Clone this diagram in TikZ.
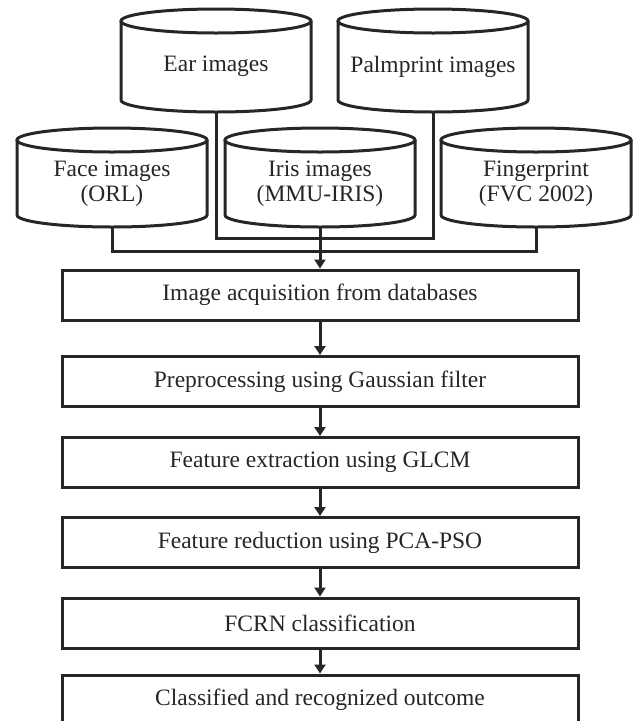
\documentclass[tikz,border=0pt]{standalone}
\usepackage{fontspec}
\setmainfont{Liberation Serif}
\usetikzlibrary{arrows.meta}

% database cylinder: name, centre x, top-ellipse centre y, side height, label
\newcommand\dbcyl[5]{%
  \draw[cyl] (#2,-#3) ellipse (95 and 12);
  \draw[cyl] (#2-95,-#3) -- ++(0,-#4) arc (180:360:95 and 12) -- ++(0,#4);
  \node[cyltext] (#1) at (#2,-#3-#4/2-6) {#5};
  \coordinate (#1b) at (#2,-#3-#4-12);
}

\begin{document}
\begin{tikzpicture}[x=1pt,y=1pt,
  cyl/.style={line width=3pt, draw=black!85},
  cyltext/.style={align=center, inner sep=0pt, text=black!85,
    font=\fontsize{23.5}{25}\selectfont},
  stage/.style={draw=black!85, line width=3pt, minimum width=516pt,
    minimum height=50pt, inner sep=0pt, text=black!85,
    font=\fontsize{23.5}{26}\selectfont},
  conn/.style={line width=3pt, draw=black!85},
  arr/.style={-{Triangle[width=11pt,length=9pt]}}
]
\useasboundingbox (0,0) rectangle (633,-721);

% databases, back row
\dbcyl{ear}{216}{21}{79}{Ear images}
\dbcyl{palm}{433}{21}{79}{Palmprint images}
% databases, front row
\dbcyl{face}{112}{140}{75}{Face images\\(ORL)}
\dbcyl{iris}{320}{140}{75}{Iris images\\(MMU-IRIS)}
\dbcyl{finger}{536}{140}{75}{Fingerprint\\(FVC 2002)}

% processing stages
\node[stage] (s1) at (320,-295)   {Image acquisition from databases};
\node[stage] (s2) at (320,-381.5) {Preprocessing using Gaussian filter};
\node[stage] (s3) at (320,-462.5) {Feature extraction using GLCM};
\node[stage] (s4) at (320,-542.5) {Feature reduction using PCA-PSO};
\node[stage] (s5) at (320,-623)   {FCRN classification};
\node[stage] (s6) at (320,-700)   {Classified and recognized outcome};

% merge lines
\coordinate (jback)  at (320,-238);
\coordinate (jfront) at (320,-251);
\draw[conn] (earb) -- (earb |- jback) -- (palmb |- jback) -- (palmb);
\draw[conn] (faceb) -- (faceb |- jfront) -- (fingerb |- jfront) -- (fingerb);
\draw[conn,arr] (irisb) -- (s1);

% stage flow
\draw[conn,arr] (s1) -- (s2);
\draw[conn,arr] (s2) -- (s3);
\draw[conn,arr] (s3) -- (s4);
\draw[conn,arr] (s4) -- (s5);
\draw[conn,arr] (s5) -- (s6);
\end{tikzpicture}
\end{document}
